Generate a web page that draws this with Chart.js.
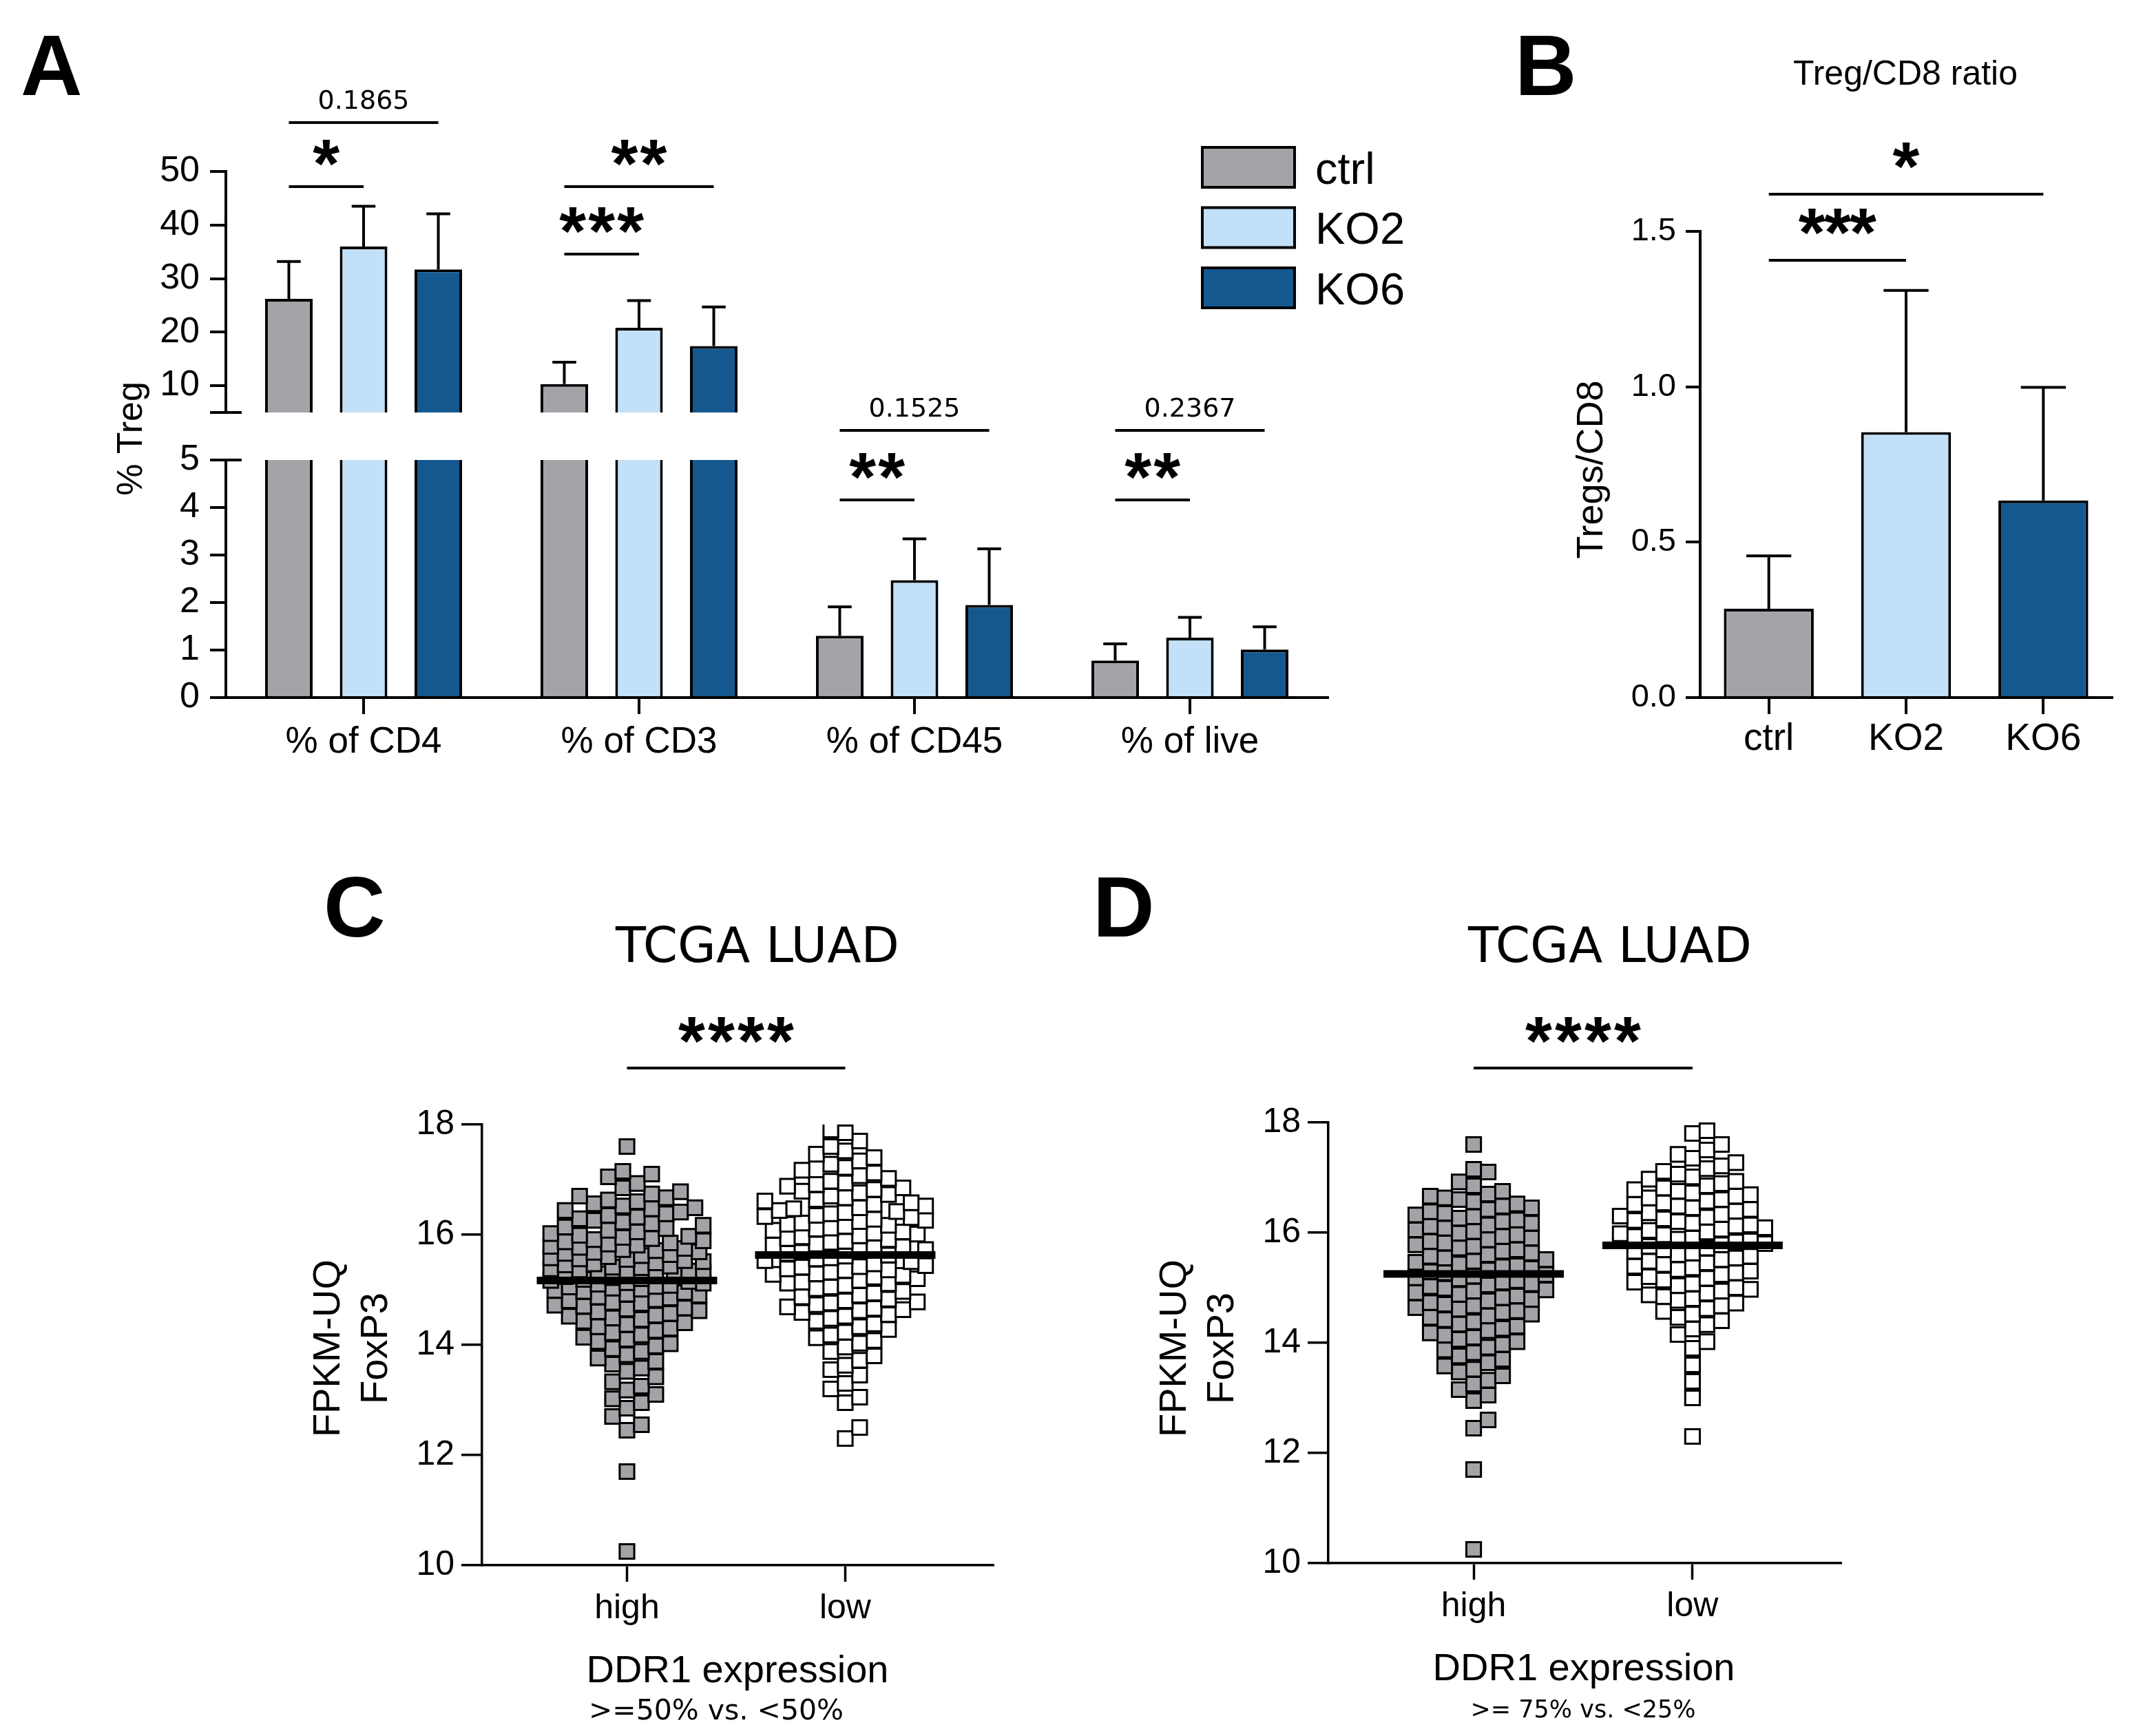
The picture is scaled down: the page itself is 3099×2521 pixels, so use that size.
<!DOCTYPE html>
<html lang="en">
<head>
<meta charset="UTF-8">
<title>Treg / FoxP3 figure</title>
<script src="https://cdn.jsdelivr.net/npm/chart.js"></script>
<style>
  html, body { margin: 0; padding: 0; background: #fff; }
  body { width: 3099px; height: 2521px; position: relative; overflow: hidden; }
  canvas { position: absolute; left: 0; top: 0; }
</style>
</head>
<body>
<canvas id="aTop" width="3099" height="2521"></canvas>
<canvas id="aBottom" width="3099" height="2521"></canvas>
<canvas id="panelB" width="3099" height="2521"></canvas>
<canvas id="panelC" width="3099" height="2521"></canvas>
<canvas id="panelD" width="3099" height="2521"></canvas>
<script>
// ---------- data ----------
// panel A: % Treg (mean + SD), broken y axis
const groupsA = ['% of CD4', '% of CD3', '% of CD45', '% of live'];
const seriesA = ['ctrl', 'KO2', 'KO6'];
const ctrlA = [26.2, 10.3, 1.30, 0.78];
const ko2A = [36.0, 20.8, 2.47, 1.26];
const ko6A = [31.7, 17.4, 1.95, 1.01];
const ctrlSdA = [7.0, 4.1, 0.61, 0.35];
const ko2SdA = [7.5, 5.1, 0.87, 0.43];
const ko6SdA = [10.4, 7.3, 1.18, 0.48];
const ticksAUpper = [10, 20, 30, 40, 50];
const ticksALower = [0, 1, 2, 3, 4, 5];
// [group, from series, to series, label]
const sigA = [
    [0, 0, 1, '*'], [0, 0, 2, '0.1865'],
    [1, 0, 1, '***'], [1, 0, 2, '**'],
    [2, 0, 1, '**'], [2, 0, 2, '0.1525'],
    [3, 0, 1, '**'], [3, 0, 2, '0.2367']
];

// panel B: Treg/CD8 ratio
const groupsB = ['ctrl', 'KO2', 'KO6'];
const ratioB = [0.286, 0.854, 0.634];
const ratioSdB = [0.170, 0.456, 0.364];
const ticksB = [0, 0.5, 1.0, 1.5];
const sigB = [[0, 1, '***'], [0, 2, '*']];

// panels C and D: FoxP3 FPKM-UQ by DDR1 expression
const groupsCD = ['high', 'low'];
const ticksCD = [10, 12, 14, 16, 18];
const highC = [10.25, 11.7, 12.45, 12.55, 12.7, 12.85, 12.95,
    13.02, 13.1, 13.18, 13.25, 13.33, 13.42,
    13.52, 13.58, 13.65, 13.7, 13.76, 13.82, 13.88, 13.93, 13.98,
    14.02, 14.06, 14.1, 14.14, 14.18, 14.22, 14.26, 14.3, 14.33, 14.37, 14.4, 14.43, 14.46, 14.49,
    14.52, 14.54, 14.57, 14.6, 14.62, 14.65, 14.67, 14.7, 14.72, 14.75, 14.77, 14.8, 14.82, 14.85, 14.87, 14.9, 14.92, 14.95, 14.97, 14.99,
    15.01, 15.03, 15.05, 15.06, 15.08, 15.1, 15.12, 15.13, 15.15, 15.17, 15.19, 15.2, 15.22, 15.24, 15.26, 15.27, 15.29, 15.31, 15.33, 15.34, 15.36, 15.38, 15.4, 15.41, 15.43, 15.45, 15.47, 15.49,
    15.51, 15.53, 15.55, 15.56, 15.58, 15.6, 15.62, 15.64, 15.66, 15.68, 15.69, 15.71, 15.73, 15.75, 15.77, 15.79, 15.81, 15.83, 15.85, 15.87, 15.89, 15.91, 15.93, 15.95, 15.97, 15.99,
    16.02, 16.05, 16.08, 16.11, 16.14, 16.17, 16.2, 16.23, 16.26, 16.29, 16.32, 16.35, 16.38, 16.41, 16.44, 16.47, 16.49,
    16.52, 16.56, 16.6, 16.63, 16.67, 16.7, 16.74, 16.78, 16.85, 16.93,
    17.05, 17.1, 17.15, 17.6];
const lowC = [12.3, 12.5, 12.95,
    13.05, 13.2, 13.3, 13.45,
    13.55, 13.63, 13.72, 13.8, 13.88, 13.96,
    14.03, 14.08, 14.13, 14.18, 14.23, 14.28, 14.33, 14.38, 14.43, 14.48,
    14.52, 14.55, 14.59, 14.62, 14.64, 14.66, 14.69, 14.73, 14.76, 14.78, 14.8, 14.83, 14.87, 14.9, 14.94, 14.97,
    15.02, 15.05, 15.08, 15.11, 15.12, 15.14, 15.17, 15.2, 15.23, 15.26, 15.28, 15.29, 15.32, 15.35, 15.36, 15.38, 15.41, 15.42, 15.44, 15.47,
    15.51, 15.53, 15.56, 15.58, 15.61, 15.63, 15.66, 15.68, 15.71, 15.73, 15.76, 15.78, 15.81, 15.83, 15.86, 15.88, 15.91, 15.93, 15.96, 15.98,
    16.01, 16.03, 16.05, 16.08, 16.1, 16.12, 16.15, 16.17, 16.19, 16.21, 16.24, 16.26, 16.28, 16.31, 16.33, 16.35, 16.38, 16.4, 16.42, 16.44, 16.47, 16.49,
    16.52, 16.55, 16.58, 16.61, 16.64, 16.67, 16.7, 16.73, 16.76, 16.79, 16.82, 16.85, 16.88, 16.91, 16.94, 16.97,
    17.02, 17.07, 17.12, 17.17, 17.22, 17.28, 17.34, 17.4, 17.46,
    17.52, 17.6, 17.7, 17.85, 17.9];
const medianC = [15.17, 15.63];
const highD = [10.25, 11.7, 12.45, 12.6,
    12.95, 13.05, 13.15, 13.25, 13.32, 13.4, 13.47,
    13.52, 13.58, 13.64, 13.7, 13.76, 13.82, 13.87, 13.92, 13.97,
    14.02, 14.06, 14.1, 14.14, 14.18, 14.22, 14.26, 14.3, 14.34, 14.38, 14.42, 14.46, 14.49,
    14.52, 14.55, 14.58, 14.61, 14.64, 14.67, 14.7, 14.73, 14.76, 14.79, 14.82, 14.85, 14.88, 14.91, 14.94, 14.96, 14.99,
    15.02, 15.05, 15.07, 15.1, 15.13, 15.16, 15.18, 15.21, 15.24, 15.27, 15.29, 15.32, 15.35, 15.38, 15.4, 15.43, 15.46, 15.48,
    15.51, 15.54, 15.57, 15.6, 15.63, 15.66, 15.69, 15.72, 15.75, 15.78, 15.81, 15.84, 15.87, 15.9, 15.93, 15.96, 15.99,
    16.02, 16.05, 16.08, 16.11, 16.14, 16.17, 16.2, 16.23, 16.26, 16.29, 16.32, 16.35, 16.38, 16.42, 16.45, 16.48,
    16.52, 16.56, 16.6, 16.63, 16.66, 16.7, 16.75, 16.85, 16.92,
    17.1, 17.15, 17.6];
const lowD = [12.3, 13.0, 13.3, 13.6,
    13.9, 14.02, 14.15, 14.25,
    14.33, 14.4, 14.46, 14.52, 14.57, 14.62, 14.67, 14.72, 14.77,
    14.8, 14.84, 14.87, 14.9, 14.94, 14.97, 15.0, 15.04, 15.07, 15.1, 15.14, 15.17, 15.2, 15.24, 15.27,
    15.3, 15.33, 15.36, 15.39, 15.42, 15.45, 15.48, 15.51, 15.54, 15.57, 15.6, 15.63, 15.66, 15.69, 15.72, 15.75, 15.78,
    15.8, 15.83, 15.85, 15.88, 15.9, 15.93, 15.96, 15.98, 16.01, 16.04, 16.06, 16.09, 16.12, 16.14, 16.17, 16.2, 16.22, 16.25, 16.28,
    16.3, 16.33, 16.36, 16.39, 16.42, 16.45, 16.48, 16.51, 16.54, 16.57, 16.6, 16.63, 16.66, 16.69, 16.72, 16.75, 16.78,
    16.81, 16.85, 16.89, 16.93, 16.97, 17.01, 17.06, 17.11, 17.16, 17.21, 17.27,
    17.35, 17.42, 17.5, 17.6, 17.8, 17.85];
const medianD = [15.25, 15.77];

// ---------- styling / layout ----------
const W = 3099, H = 2521;
const FONT = '"Liberation Sans", Arial, sans-serif';
const FONT2 = '"DejaVu Sans", Verdana, sans-serif';
const barColors = ['#a4a4a8', '#c2e0f8', '#14588f'];
const dotGray = '#a3a3a7';

function txt(ctx, s, x, y, size, opt) {
    opt = opt || {};
    ctx.save();
    ctx.font = (opt.bold ? 'bold ' : '') + size + 'px ' + (opt.family || FONT);
    ctx.fillStyle = '#000';
    ctx.textAlign = opt.align || 'center';
    ctx.textBaseline = opt.base || 'alphabetic';
    let dx = 0;
    if (opt.spacing) { ctx.letterSpacing = opt.spacing + 'px'; dx = opt.spacing / 2; }
    ctx.translate(x, y);
    if (opt.rot) ctx.rotate(opt.rot);
    ctx.fillText(s, dx, 0);
    ctx.restore();
}

function hline(ctx, x1, x2, y, lw) {
    ctx.save();
    ctx.strokeStyle = '#000';
    ctx.lineWidth = lw;
    ctx.beginPath();
    ctx.moveTo(x1, y);
    ctx.lineTo(x2, y);
    ctx.stroke();
    ctx.restore();
}

// bracket with a star label or a p value above it
function bracket(ctx, x1, x2, y, label, starGap, pitch) {
    hline(ctx, x1, x2, y, 4);
    const cx = (x1 + x2) / 2;
    if (/^[0-9]/.test(label)) {
        txt(ctx, label, cx, y - 20, 38, { family: FONT2 });
    } else {
        const size = 100;
        txt(ctx, label, cx, y - starGap + 0.44 * size, size, { bold: true, spacing: pitch - 0.389 * size });
    }
}

function frame(area, yWidth, xHeight) {
    return {
        autoPadding: false,
        padding: { left: area.left - yWidth, top: area.top, right: W - area.right, bottom: H - area.bottom - xHeight }
    };
}

function yAxis(o) {
    return {
        min: o.min, max: o.max,
        afterFit: s => { s.width = o.width; },
        afterBuildTicks: s => { s.ticks = o.ticks.map(v => ({ value: v })); },
        border: { display: true, color: '#000', width: o.lw },
        grid: { display: true, drawOnChartArea: false, drawTicks: true, tickLength: o.tl, tickWidth: o.lw, tickColor: '#000', color: '#000', lineWidth: o.lw },
        ticks: { color: '#000', padding: o.pad, font: { family: FONT, size: o.size }, callback: o.fmt || (v => String(v)) }
    };
}

function xCategory(o) {
    return {
        display: o.display !== false,
        afterFit: s => { s.height = o.height; },
        border: { display: true, color: '#000', width: o.lw },
        grid: { display: true, offset: false, drawOnChartArea: false, drawTicks: true, tickLength: 24, tickWidth: o.lw, tickColor: '#000', color: '#000', lineWidth: o.lw },
        ticks: { color: '#000', padding: o.pad, font: { family: FONT, size: o.size }, maxRotation: 0, autoSkip: false }
    };
}

const baseOpts = {
    responsive: false,
    animation: false,
    devicePixelRatio: 1,
    events: [],
    plugins: { legend: { display: false }, tooltip: { enabled: false } }
};

// mean + SD whiskers, clipped to the plot area (needed for the broken axis)
const errorBars = {
    id: 'errorBars',
    afterDatasetsDraw(chart) {
        const { ctx, chartArea: a } = chart;
        const ys = chart.scales.y;
        ctx.save();
        ctx.beginPath();
        ctx.rect(a.left, a.top - 3, a.right - a.left, a.bottom - a.top + 3);
        ctx.clip();
        ctx.strokeStyle = '#000';
        ctx.lineWidth = 4;
        chart.data.datasets.forEach((ds, i) => {
            if (!ds.sd) return;
            chart.getDatasetMeta(i).data.forEach((bar, j) => {
                const top = ys.getPixelForValue(ds.data[j] + ds.sd[j]);
                const half = bar.width / 4;
                ctx.beginPath();
                ctx.moveTo(bar.x, bar.y);
                ctx.lineTo(bar.x, top);
                ctx.moveTo(bar.x - half, top);
                ctx.lineTo(bar.x + half, top);
                ctx.stroke();
            });
        });
        ctx.restore();
    }
};

function datasetsA() {
    const sds = [ctrlSdA, ko2SdA, ko6SdA];
    return [ctrlA, ko2A, ko6A].map((d, i) => ({
        label: seriesA[i], data: d, sd: sds[i],
        backgroundColor: barColors[i], borderColor: '#000', borderWidth: 4, borderSkipped: 'start',
        categoryPercentage: 0.814, barPercentage: 0.636, clip: 0
    }));
}

// ---------- panel A, upper segment (5-50) ----------
new Chart(document.getElementById('aTop'), {
    type: 'bar',
    data: { labels: groupsA, datasets: datasetsA() },
    options: Object.assign({}, baseOpts, {
        layout: frame({ left: 328, right: 1928, top: 249, bottom: 599 }, 200, 0),
        scales: {
            x: xCategory({ display: false, height: 0, lw: 4, size: 53, pad: 10 }),
            y: yAxis({ min: 5, max: 50, ticks: ticksAUpper, width: 200, lw: 4, tl: 23, pad: 15, size: 52 })
        }
    }),
    plugins: [errorBars, {
        id: 'breakTop',
        afterDraw(chart) {
            const a = chart.chartArea;
            hline(chart.ctx, a.left - 23, a.left + 23, a.bottom, 4);
        }
    }]
});

// ---------- panel A, lower segment (0-5) + annotations ----------
new Chart(document.getElementById('aBottom'), {
    type: 'bar',
    data: { labels: groupsA, datasets: datasetsA() },
    options: Object.assign({}, baseOpts, {
        layout: frame({ left: 328, right: 1928, top: 668, bottom: 1013 }, 200, 120),
        scales: {
            x: xCategory({ height: 120, lw: 4, size: 53, pad: 10 }),
            y: yAxis({ min: 0, max: 5, ticks: ticksALower, width: 200, lw: 4, tl: 23, pad: 15, size: 52 })
        }
    }),
    plugins: [errorBars, {
        id: 'decoA',
        afterDraw(chart) {
            const ctx = chart.ctx, a = chart.chartArea;
            hline(ctx, a.left, a.left + 23, a.top, 4);
            txt(ctx, 'A', 30, 138, 124, { bold: true, align: 'left' });
            txt(ctx, '% Treg', 192, 637, 52, { rot: -Math.PI / 2, base: 'middle' });
            const levels = [271, 178, 369, 271, 726, 625, 726, 625];
            sigA.forEach((s, k) => {
                const x1 = chart.getDatasetMeta(s[1]).data[s[0]].x;
                const x2 = chart.getDatasetMeta(s[2]).data[s[0]].x;
                bracket(ctx, x1, x2, levels[k], s[3], 43, 42);
            });
            // legend
            seriesA.forEach((name, i) => {
                const y = 214 + i * 87.5;
                ctx.save();
                ctx.fillStyle = barColors[i];
                ctx.strokeStyle = '#000';
                ctx.lineWidth = 4;
                ctx.fillRect(1746, y, 134, 58);
                ctx.strokeRect(1746, y, 134, 58);
                ctx.restore();
                txt(ctx, name, 1910, y + 29 + 23.5, 65, { align: 'left' });
            });
        }
    }]
});

// ---------- panel B ----------
new Chart(document.getElementById('panelB'), {
    type: 'bar',
    data: {
        labels: groupsB,
        datasets: [{
            data: ratioB, sd: ratioSdB,
            backgroundColor: barColors, borderColor: '#000', borderWidth: 4, borderSkipped: 'start',
            categoryPercentage: 1, barPercentage: 0.655
        }]
    },
    options: Object.assign({}, baseOpts, {
        layout: frame({ left: 2469, right: 3067, top: 336, bottom: 1013 }, 150, 120),
        scales: {
            x: xCategory({ height: 120, lw: 4, size: 55, pad: 4 }),
            y: yAxis({ min: 0, max: 1.5, ticks: ticksB, width: 150, lw: 4, tl: 21, pad: 14, size: 47, fmt: v => v.toFixed(1) })
        }
    }),
    plugins: [errorBars, {
        id: 'decoB',
        afterDraw(chart) {
            const ctx = chart.ctx;
            txt(ctx, 'B', 2200, 138, 124, { bold: true, align: 'left' });
            txt(ctx, 'Treg/CD8 ratio', 2767, 123, 50);
            txt(ctx, 'Tregs/CD8', 2312, 682, 54, { rot: -Math.PI / 2, base: 'middle' });
            const meta = chart.getDatasetMeta(0).data;
            const levels = [378, 282];
            sigB.forEach((s, k) => bracket(ctx, meta[s[0]].x, meta[s[1]].x, levels[k], s[2], 50, 37));
        }
    }]
});

// ---------- panels C and D ----------
const PX_PER_Y = 80, PX_PER_X = 317.9, MARK = 21;
// beeswarm placement: horizontal offset only, y stays the data value
function swarm(values, pos, halfWidth) {
    const placed = [];
    const cands = [0];
    for (let k = 3; k <= halfWidth; k += 3) cands.push(k, -k);
    return values.map(v => {
        const py = v * PX_PER_Y;
        let best = 0, bestCost = Infinity;
        for (const dx of cands) {
            let cost = 0;
            for (const p of placed) {
                const ox = MARK - Math.abs(p.x - dx), oy = MARK - Math.abs(p.y - py);
                if (ox > 0 && oy > 0) cost += ox * oy;
            }
            if (cost < bestCost - 1e-6) { bestCost = cost; best = dx; if (cost === 0) break; }
        }
        placed.push({ x: best, y: py });
        return { x: pos + best / PX_PER_X, y: v };
    });
}

function dotPanel(id, o) {
    new Chart(document.getElementById(id), {
        type: 'scatter',
        data: {
            datasets: [
                { data: swarm(o.high, 1, o.halfHigh), pointStyle: 'rect', pointRadius: 15, pointBackgroundColor: dotGray, pointBorderColor: '#000', pointBorderWidth: 3 },
                { data: swarm(o.low, 2, o.halfLow), pointStyle: 'rect', pointRadius: 15, pointBackgroundColor: '#fff', pointBorderColor: '#000', pointBorderWidth: 3 }
            ]
        },
        options: Object.assign({}, baseOpts, {
            layout: frame(o.area, 150, 120),
            scales: {
                x: {
                    type: 'linear', min: 0.336, max: 2.68,
                    afterFit: s => { s.height = 120; },
                    afterBuildTicks: s => { s.ticks = [1, 2].map(v => ({ value: v })); },
                    border: { display: true, color: '#000', width: 3.5 },
                    grid: { display: true, drawOnChartArea: false, tickLength: 24, tickWidth: 3.5, tickColor: '#000', color: '#000' },
                    ticks: { color: '#000', padding: 9, font: { family: FONT, size: 50 }, callback: v => groupsCD[v - 1] }
                },
                y: yAxis({ min: 10, max: 18, ticks: ticksCD, width: 150, lw: 3.5, tl: 30, pad: 10, size: 50 })
            }
        }),
        plugins: [{
            id: 'deco' + id,
            afterDatasetsDraw(chart) {
                const ctx = chart.ctx, xs = chart.scales.x, ys = chart.scales.y;
                o.median.forEach((m, i) => {
                    const cx = xs.getPixelForValue(i + 1);
                    hline(ctx, cx - 131, cx + 131, ys.getPixelForValue(m), 11);
                });
            },
            afterDraw(chart) {
                const ctx = chart.ctx, xs = chart.scales.x;
                txt(ctx, o.letter, o.letterX, 1360, 124, { bold: true, align: 'left' });
                txt(ctx, 'TCGA LUAD', o.titleX, 1397, 72, { family: FONT2 });
                bracket(ctx, xs.getPixelForValue(1), xs.getPixelForValue(2), 1551, '****', 49, 43);
                txt(ctx, 'FPKM-UQ', o.area.left - 222, 1958, 56, { rot: -Math.PI / 2, base: 'middle' });
                txt(ctx, 'FoxP3', o.area.left - 153, 1958, 56, { rot: -Math.PI / 2, base: 'middle' });
                txt(ctx, 'DDR1 expression', o.xTitleX, o.area.bottom + 170, 56);
                txt(ctx, o.sub, o.subX, o.area.bottom + 224, o.subSize, { family: FONT2 });
            }
        }]
    });
}

dotPanel('panelC', {
    high: highC, low: lowC, median: medianC, halfHigh: 112, halfLow: 118,
    area: { left: 700, right: 1443, top: 1633, bottom: 2273 },
    letter: 'C', letterX: 470, titleX: 1100, xTitleX: 1071, sub: '>=50% vs. <50%', subX: 1040, subSize: 41
});
dotPanel('panelD', {
    high: highD, low: lowD, median: medianD, halfHigh: 108, halfLow: 115,
    area: { left: 1929, right: 2674, top: 1630, bottom: 2270 },
    letter: 'D', letterX: 1587, titleX: 2338, xTitleX: 2300, sub: '>= 75% vs. <25%', subX: 2299, subSize: 35
});
</script>
</body>
</html>
